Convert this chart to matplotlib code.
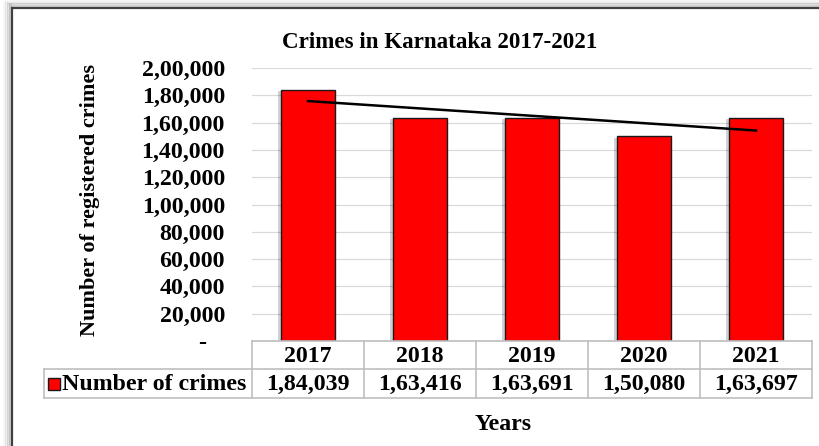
import matplotlib
matplotlib.use("Agg")
import matplotlib.pyplot as plt
import numpy as np
from matplotlib.lines import Line2D
from matplotlib.patches import Rectangle
import matplotlib.patheffects as pe
from matplotlib.ticker import FuncFormatter, MultipleLocator

years = ["2017", "2018", "2019", "2020", "2021"]
crimes = [184039, 163416, 163691, 150080, 163697]
series_name = "Number of crimes"
title = "Crimes in Karnataka 2017-2021"
ylabel = "Number of registered crimes"
xlabel = "Years"

W, H = 820, 446
plt.rcParams['font.family'] = ['Liberation Serif', 'DejaVu Serif']
plt.rcParams['font.weight'] = 'bold'

fig = plt.figure(figsize=(W / 100, H / 100), dpi=100)
FS = 17.2


def fx(x):
    return x / W


def fy(y):
    return 1 - y / H


def indian(v):
    v = int(round(v))
    if v == 0:
        return "-   "
    s = str(v)
    if len(s) <= 3:
        return s
    last3 = s[-3:]
    rest = s[:-3]
    parts = []
    while len(rest) > 2:
        parts.insert(0, rest[-2:])
        rest = rest[:-2]
    if rest:
        parts.insert(0, rest)
    return ",".join(parts) + "," + last3


# outer frame with shadow
for i, a in enumerate([0.08, 0.15, 0.25, 0.35]):
    fig.add_artist(Line2D([fx(4 + 2 * i), fx(4 + 2 * i)], [fy(2 + i), 0], color='gray', lw=2, alpha=a))
    fig.add_artist(Line2D([fx(6 + 2 * i), 1], [fy(1 + 1.5 * i), fy(1 + 1.5 * i)], color='gray', lw=1.5, alpha=a))
fig.add_artist(Line2D([fx(12.5), fx(12.5)], [fy(7.5), 0], color='#404040', lw=1.6))
fig.add_artist(Line2D([fx(12.5), 1], [fy(7.5), fy(7.5)], color='#404040', lw=1.6))

L, R, T, B = 252, 812, 68, 341
ax = fig.add_axes([fx(L), fy(B), fx(R - L), (B - T) / H])
x = np.arange(len(years))
bars = ax.bar(x, crimes, width=0.49, color='#ff0000', edgecolor='#1a1a1a', linewidth=1.0, zorder=3)
for b in bars:
    b.set_path_effects([pe.SimplePatchShadow(offset=(-2, -1), shadow_rgbFace='black', alpha=0.18), pe.Normal()])

coef = np.polyfit(x, crimes, 1)
ax.plot([x[0], x[-1]], np.polyval(coef, [x[0], x[-1]]), color='black', lw=1.8, zorder=4)

ax.set_xlim(-0.5, len(years) - 0.5)
ax.set_ylim(0, 200000)
ax.yaxis.set_major_locator(MultipleLocator(20000))
ax.yaxis.set_major_formatter(FuncFormatter(lambda v, p: indian(v)))
ax.grid(axis='y', color='#d9d9d9', lw=0.9, zorder=0)
ax.set_axisbelow(True)
for s in ax.spines.values():
    s.set_visible(False)
ax.tick_params(axis='y', length=0, pad=19.5, labelsize=FS)
ax.tick_params(axis='x', length=0, labelbottom=False)
for t in ax.get_yticklabels():
    t.set_fontweight('bold')

# title and labels
fig.text(fx(440), fy(42), title, ha='center', va='center', fontsize=16.6, fontweight='bold')
fig.text(fx(90), fy(200), ylabel, ha='center', va='center', rotation=90, fontsize=16.0, fontweight='bold')
fig.text(fx(503), fy(425), xlabel, ha='center', va='center', fontsize=FS, fontweight='bold')

# data table
gc = '#bfbfbf'
r0, r1, r2 = 341, 369, 398
xs = [L + (R - L) * i / len(years) for i in range(len(years) + 1)]
fig.add_artist(Line2D([fx(L), fx(R)], [fy(r0), fy(r0)], color=gc, lw=1.2))
fig.add_artist(Line2D([fx(44), fx(R)], [fy(r1), fy(r1)], color=gc, lw=1.2))
fig.add_artist(Line2D([fx(44), fx(R)], [fy(r2), fy(r2)], color=gc, lw=1.2))
fig.add_artist(Line2D([fx(44), fx(44)], [fy(r1), fy(r2)], color=gc, lw=1.2))
for xv in xs:
    fig.add_artist(Line2D([fx(xv), fx(xv)], [fy(r0), fy(r2)], color=gc, lw=1.2))
for i, (yr, v) in enumerate(zip(years, crimes)):
    cx = (xs[i] + xs[i + 1]) / 2
    fig.text(fx(cx), fy((r0 + r1) / 2 + 1), yr, ha='center', va='center', fontsize=FS, fontweight='bold')
    fig.text(fx(cx), fy((r1 + r2) / 2 + 1), indian(v), ha='center', va='center', fontsize=FS, fontweight='bold')
fig.add_artist(Rectangle((fx(48), fy(390)), fx(12), 12 / H, facecolor='#ff0000', edgecolor='#1a1a1a', lw=1.0))
fig.text(fx(62), fy((r1 + r2) / 2 + 1), series_name, ha='left', va='center', fontsize=FS, fontweight='bold')

fig.savefig("out.png", dpi=100)
